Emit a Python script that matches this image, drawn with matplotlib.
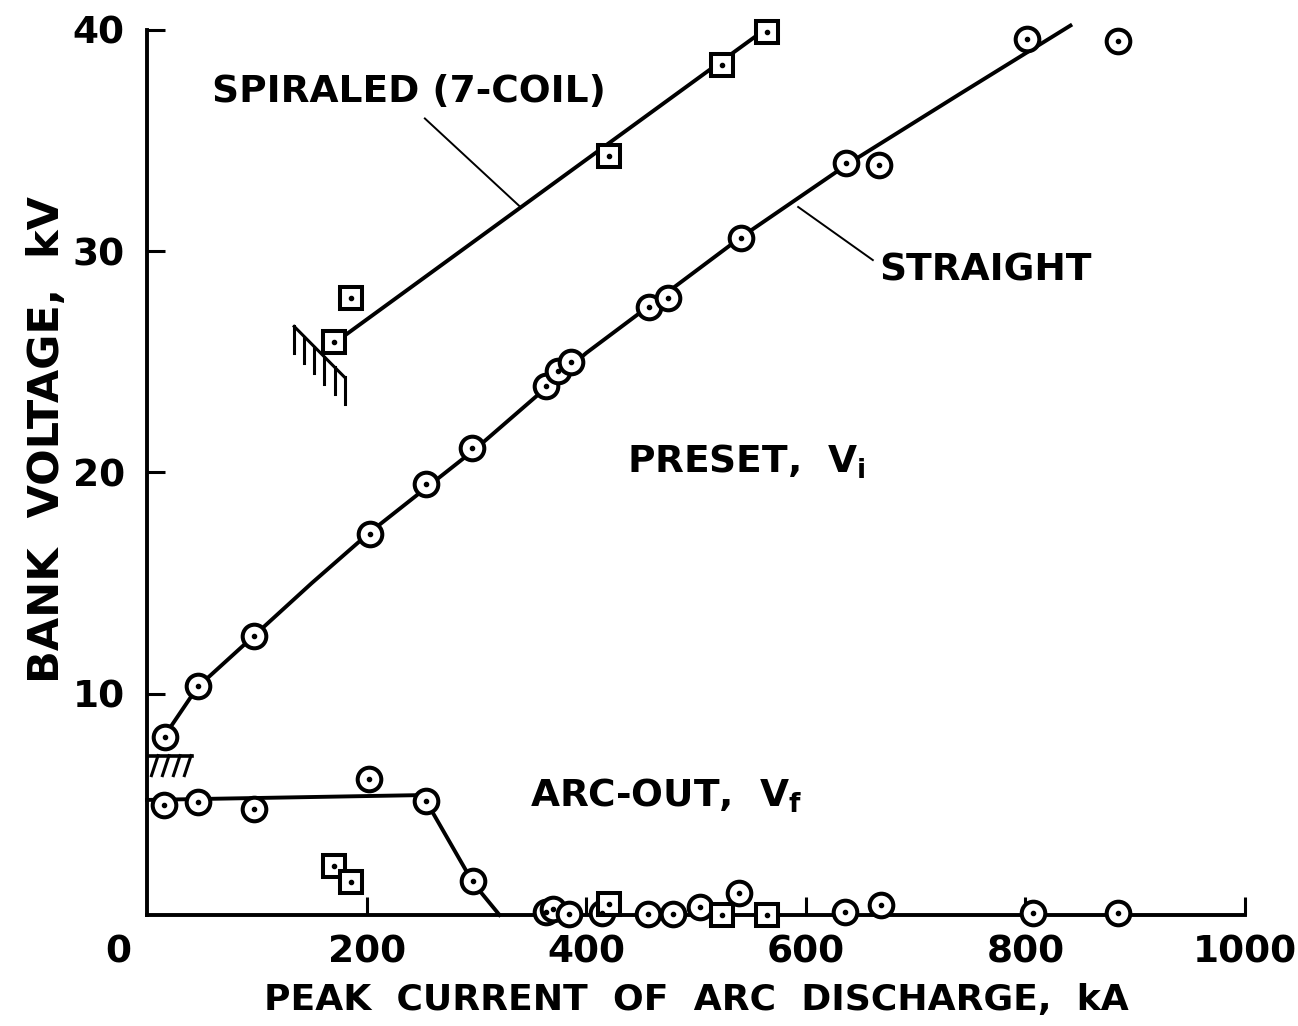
import numpy as np
import matplotlib.pyplot as plt

plt.rcParams['font.family'] = ['DejaVu Sans']
plt.rcParams['font.weight'] = 'bold'
plt.rcParams['axes.labelweight'] = 'bold'
plt.rcParams['mathtext.default'] = 'regular'

# preset voltage V_i, straight coil (circles)
straight_ka = [16, 46, 97, 203, 254, 296, 363, 374, 386, 457, 474, 541, 637, 667, 801, 884]
straight_kv = [8.05, 10.35, 12.6, 17.2, 19.5, 21.1, 23.9, 24.6, 25.0, 27.5, 27.9, 30.6, 34.0, 33.9, 39.6, 39.5]
# fitted curve through the straight data
straight_fit_ka = [16, 46, 97, 150, 203, 300, 400, 470, 540, 640, 740, 841]
straight_fit_kv = [8.1, 10.3, 12.6, 15.0, 17.3, 21.1, 25.4, 28.0, 30.6, 34.0, 37.1, 40.2]

# preset voltage V_i, spiraled 7-coil (squares)
spiral_ka = [170, 186, 421, 524, 565]
spiral_kv = [25.9, 27.9, 34.3, 38.4, 39.9]
spiral_fit_ka = [172, 565]
spiral_fit_kv = [25.9, 40.1]

# arc-out voltage V_f
arcout_ka = [15, 46, 97, 202, 254, 297, 363, 370, 384, 414, 456, 479, 504, 539, 636, 668, 807, 884]
arcout_kv = [4.97, 5.1, 4.8, 6.15, 5.15, 1.54, 0.14, 0.25, 0.05, 0.1, 0.05, 0.05, 0.36, 1.0, 0.14, 0.45, 0.09, 0.09]
arcout_sq_ka = [170, 186, 421, 524, 565]
arcout_sq_kv = [2.2, 1.5, 0.5, 0.0, 0.0]
arcout_fit_ka = [0, 251, 297, 321]
arcout_fit_kv = [5.2, 5.42, 1.45, 0.0]

xticks = [200, 400, 600, 800, 1000]
yticks = [10, 20, 30, 40]

FS = 27
LW = 2.8

fig = plt.figure(figsize=(12.98, 10.26), dpi=100)
ax = fig.add_axes([0.1133, 0.1082, 0.8459, 0.8626])
ax.set_xlim(0, 1000)
ax.set_ylim(0, 40)

for s in ['top', 'right']:
    ax.spines[s].set_visible(False)
for s in ['left', 'bottom']:
    ax.spines[s].set_linewidth(LW)

ax.set_xticks(xticks)
ax.set_yticks(yticks)
ax.tick_params(direction='in', length=13, width=2.2, labelsize=FS)
ax.tick_params(axis='x', pad=14)
ax.tick_params(axis='y', pad=16)
ax.text(-26, -0.0226, '0', transform=ax.get_xaxis_transform(),
        ha='center', va='top', fontsize=FS)

# fitted lines
ax.plot(straight_fit_ka, straight_fit_kv, color='black', lw=LW, clip_on=False, zorder=2)
ax.plot(spiral_fit_ka, spiral_fit_kv, color='black', lw=LW, clip_on=False, zorder=2)
ax.plot(arcout_fit_ka, arcout_fit_kv, color='black', lw=LW, clip_on=False, zorder=2)

# data markers
circ = dict(marker='o', ms=17, mew=2.9, mfc='white', mec='black', ls='none', clip_on=False, zorder=3)
sq = dict(marker='s', ms=15.5, mew=2.9, mfc='white', mec='black', ls='none', clip_on=False, zorder=3)
dot = dict(marker='o', ms=3, color='black', ls='none', clip_on=False, zorder=4)
for xs, ys, st in [(straight_ka, straight_kv, circ), (arcout_ka, arcout_kv, circ),
                   (spiral_ka, spiral_kv, sq), (arcout_sq_ka, arcout_sq_kv, sq)]:
    ax.plot(xs, ys, **st)
    ax.plot(xs, ys, **dot)

# limit hatches
hx = np.linspace(134, 180, 6)
hy = np.interp(hx, [134, 180], [26.6, 24.3])
ax.plot([134, 180], [26.6, 24.3], color='black', lw=2.2, zorder=2)
for x0, y0 in zip(hx, hy):
    ax.plot([x0, x0], [y0, y0 - 1.2], color='black', lw=2.2, zorder=2)

ax.plot([0, 41], [7.2, 7.2], color='black', lw=2.6, zorder=2)
for x0 in [10, 20, 30, 40]:
    ax.plot([x0, x0 - 6], [7.2, 6.3], color='black', lw=2.2, zorder=2)

# labels with leaders
ax.text(59, 37.2, 'SPIRALED (7-COIL)', fontsize=FS, ha='left', va='center')
ax.plot([253, 340], [36.0, 32.0], color='black', lw=1.4)
ax.text(667, 29.15, 'STRAIGHT', fontsize=FS, ha='left', va='center')
ax.plot([593, 661], [32.0, 29.6], color='black', lw=1.4)
ax.text(437, 20.5, r'PRESET,  V$_\mathbf{i}$', fontsize=FS, ha='left', va='center')
ax.text(349, 5.4, r'ARC-OUT,  V$_\mathbf{f}$', fontsize=FS, ha='left', va='center')

ax.set_xlabel('PEAK  CURRENT  OF  ARC  DISCHARGE,  kA', fontsize=26)
ax.xaxis.set_label_coords(0.5, -0.077)
ax.set_ylabel('BANK  VOLTAGE,  kV', fontsize=31)
ax.yaxis.set_label_coords(-0.072, 0.537)

fig.savefig('out.png', dpi=100)
